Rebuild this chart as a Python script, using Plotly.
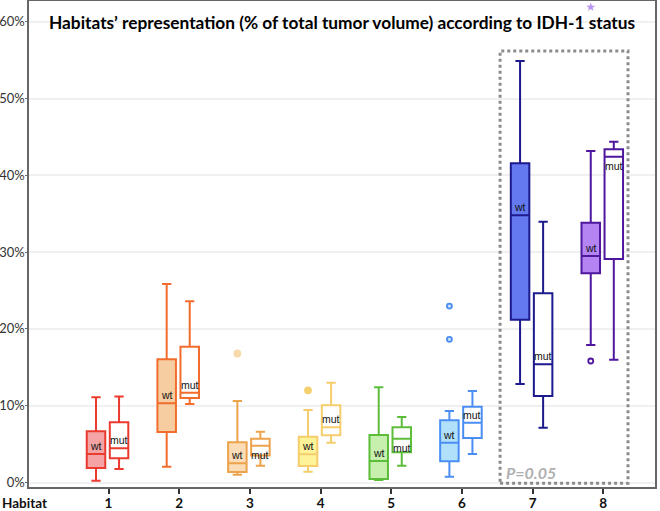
import plotly.graph_objects as go

# ---------------- data (percent of total tumor volume) ----------------
habitats = [1, 2, 3, 4, 5, 6, 7, 8]
tick_labels = ["1", "2", "3", "4", "5", "6", "7", "8"]
y_ticks = [0, 10, 20, 30, 40, 50, 60]
y_tick_labels = ["0%", "10%", "20%", "30%", "40%", "50%", "60%"]

wt_lower  = [0.23, 2.06, 1.02, 1.41, 0.33, 0.76, 12.83, 17.9]
wt_q1     = [1.89, 6.58, 1.37, 2.15, 0.46, 2.76, 21.2, 27.24]
wt_median = [3.71, 10.31, 2.5, 3.67, 2.8, 5.18, 34.79, 29.49]
wt_q3     = [6.67, 16.04, 5.23, 5.96, 6.18, 8.1, 41.56, 33.83]
wt_upper  = [11.1, 25.85, 10.6, 9.44, 12.4, 9.31, 54.9, 43.16]

mut_lower  = [1.76, 10.22, 2.19, 5.18, 2.19, 3.71, 7.14, 15.99]
mut_q1     = [3.15, 11.0, 3.5, 6.14, 3.93, 5.79, 11.26, 29.1]
mut_median = [4.45, 11.69, 4.8, 7.19, 5.71, 7.79, 15.39, 42.42]
mut_q3     = [7.84, 17.68, 5.7, 10.05, 7.19, 9.87, 24.64, 43.38]
mut_upper  = [11.2, 23.59, 6.6, 13.0, 8.53, 11.9, 33.96, 44.38]

# outliers (wt group)
out_habitat = [3, 4, 6, 6, 8]
out_values  = [16.8, 12.0, 22.98, 18.65, 15.82]
star_habitat = [8]
star_values = [61.9]

# ---------------- styles ----------------
line_colors = ["#eb3a2e", "#f26c2c", "#eda24c", "#f5cd6c",
               "#5cbd3b", "#4b8ef3", "#1c1a8c", "#4e179d"]
wt_fills = ["#f4a4a4", "#f6cda0", "#fbdcb6", "#fff39a",
            "#c7f0ae", "#b0e0fa", "#6479ef", "#b384f2"]
out_fills = {3: "#f8d9a9", 4: "#f4d06e", 6: "#cfe2fd", 8: "#ffffff"}
star_color = "#b894f0"

WT_OFF, MUT_OFF, BOX_W = -0.177, 0.149, 0.262
L, R, T, B = 29, 5, 1, 24
PW, PH = 660 - L - R, 511 - T - B

fig = go.Figure()

for i, h in enumerate(habitats):
    fig.add_trace(go.Box(
        x=[h + WT_OFF], q1=[wt_q1[i]], median=[wt_median[i]], q3=[wt_q3[i]],
        lowerfence=[wt_lower[i]], upperfence=[wt_upper[i]],
        width=BOX_W, whiskerwidth=0.5, fillcolor=wt_fills[i],
        line=dict(color=line_colors[i], width=2), boxpoints=False,
        showlegend=False, hoverinfo="skip"))
    fig.add_trace(go.Box(
        x=[h + MUT_OFF], q1=[mut_q1[i]], median=[mut_median[i]], q3=[mut_q3[i]],
        lowerfence=[mut_lower[i]], upperfence=[mut_upper[i]],
        width=BOX_W, whiskerwidth=0.5, fillcolor="#ffffff",
        line=dict(color=line_colors[i], width=2), boxpoints=False,
        showlegend=False, hoverinfo="skip"))

# outliers
for h, v in zip(out_habitat, out_values):
    c = line_colors[h - 1]
    fig.add_trace(go.Scatter(
        x=[h + WT_OFF], y=[v], mode="markers",
        marker=dict(size=6 if h in (3, 4) else 5, color=out_fills[h],
                    line=dict(color=c if h in (6, 8) else out_fills[h], width=1.8)),
        showlegend=False, hoverinfo="skip"))
fig.add_trace(go.Scatter(
    x=[h + WT_OFF for h in star_habitat], y=star_values, mode="markers",
    marker=dict(symbol="star", size=7, color=star_color),
    showlegend=False, hoverinfo="skip"))

# wt / mut labels above median
lab_font = dict(family="Liberation Sans, Arial", size=10.5, color="#111")
for i, h in enumerate(habitats):
    for off, med, q3, txt in ((WT_OFF, wt_median[i], wt_q3[i], "wt"),
                              (MUT_OFF, mut_median[i], mut_q3[i], "mut")):
        below = (q3 - med) < 1.5
        fig.add_annotation(x=h + off, y=med, text=txt, showarrow=False,
                           xref="x", yref="y",
                           yanchor="top" if below else "bottom",
                           yshift=-1 if below else 0, font=lab_font)

# dotted highlight rectangle and p-value
fig.add_shape(type="rect", xref="x", yref="y", x0=6.54, x1=8.35, y0=-0.1, y1=56.2,
              line=dict(color="#8c8c8c", width=3, dash="dot"), fillcolor="rgba(0,0,0,0)")
fig.add_annotation(x=6.6, y=1.3, xref="x", yref="y", text="<i>P=0.05</i>",
                   showarrow=False, xanchor="left", yanchor="middle",
                   font=dict(family="Lato, Open Sans", size=16, color="#b0b0b0", weight="bold"))

# title
fig.add_annotation(x=(342 - L) / PW, y=(511 - B - 22.7) / PH, xref="paper", yref="paper",
                   text="<b>Habitats’ representation (% of total tumor volume) according to IDH-1 status</b>",
                   showarrow=False, xanchor="center", yanchor="middle",
                   font=dict(family="Lato", size=17.3, color="#000"))
# "Habitat" label at bottom-left
fig.add_annotation(x=-L / PW, y=-(503 - (511 - B)) / PH, xref="paper", yref="paper",
                   text="<b>Habitat</b>", showarrow=False, xanchor="left", yanchor="middle",
                   font=dict(family="Lato", size=13.5, color="#111"))

fig.update_layout(
    width=660, height=511,
    margin=dict(l=L, r=R, t=T, b=B, autoexpand=False),
    paper_bgcolor="white", plot_bgcolor="white",
    xaxis=dict(range=[-0.125, 8.732], tickvals=habitats, ticktext=tick_labels,
               automargin=False,
               showgrid=False, zeroline=False, showline=True, linecolor="#666",
               linewidth=1.5, mirror=True, ticks="outside", ticklen=5, tickwidth=2,
               tickcolor="#333", ticklabelstandoff=-2,
               tickfont=dict(family="Lato", size=13.5, color="#111", weight="bold")),
    yaxis=dict(range=[-0.586, 62.7], tickvals=y_ticks, ticktext=y_tick_labels,
               automargin=False,
               showgrid=True, gridcolor="#f0f0f0", gridwidth=1.5,
               zeroline=False, showline=True, linecolor="#666", linewidth=1.5,
               mirror=True, ticks="outside", ticklen=2, tickcolor="#666",
               ticklabelstandoff=-2,
               tickfont=dict(family="Lato", size=13, color="#333")),
)

fig.write_html("out.html", config={"displayModeBar": False},
               post_script="document.body.style.margin='0';document.body.style.padding='0';")
